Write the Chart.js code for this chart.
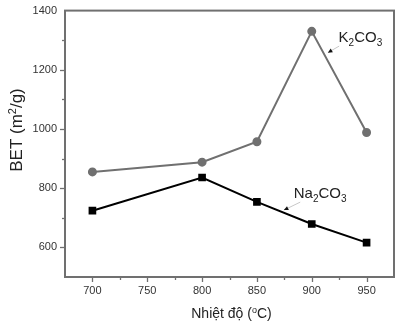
<!DOCTYPE html>
<html>
<head>
<meta charset="utf-8">
<script src="https://cdn.jsdelivr.net/npm/chart.js@4/dist/chart.umd.min.js"></script>
<style>
  html, body { margin: 0; padding: 0; background: #fff; }
  #wrap { width: 400px; height: 324px; }
</style>
</head>
<body>
<div id="wrap"><canvas id="c" width="400" height="324"></canvas></div>
<script>
// Calcination temperature (°C) and BET surface area (m²/g)
const temperatures = [700, 800, 850, 900, 950];
const betK2CO3 = [855, 888, 957, 1330, 988];
const betNa2CO3 = [724, 836, 754, 679, 616];
const xTickLabels = [700, 750, 800, 850, 900, 950];
const yTickLabels = [600, 800, 1000, 1200, 1400];

const FONT = "'Liberation Sans', Arial, sans-serif";
const FRAME = '#707070';

// Draw text made of normal / sub / superscript runs
function richWidth(ctx, runs, size) {
  let w = 0;
  for (const r of runs) {
    ctx.font = (r.k === 'n' ? size : Math.round(size * 0.66)) + 'px ' + FONT;
    w += ctx.measureText(r.t).width;
  }
  return w;
}
function drawRich(ctx, runs, x, y, size) {
  let cx = x;
  for (const r of runs) {
    const s = r.k === 'n' ? size : Math.round(size * 0.66);
    ctx.font = s + 'px ' + FONT;
    const dy = r.k === 'sub' ? size * 0.28 : r.k === 'sup' ? -size * 0.38 : 0;
    ctx.fillText(r.t, cx, y + dy);
    cx += ctx.measureText(r.t).width;
  }
}

const decorations = {
  id: 'decorations',
  afterDraw(chart) {
    const {ctx, chartArea: a, scales: {x, y}} = chart;
    ctx.save();
    // frame
    ctx.strokeStyle = FRAME;
    ctx.lineWidth = 2;
    ctx.strokeRect(a.left, a.top, a.right - a.left, a.bottom - a.top);
    // outward tick marks, longer on labelled values
    ctx.lineWidth = 1.3;
    x.ticks.forEach(t => {
      if (t.value <= x.min || t.value >= x.max) return;
      const px = Math.round(x.getPixelForValue(t.value)) + 0.5;
      const len = xTickLabels.includes(t.value) ? 5 : 3;
      ctx.beginPath(); ctx.moveTo(px, a.bottom); ctx.lineTo(px, a.bottom + len); ctx.stroke();
    });
    y.ticks.forEach(t => {
      if (t.value <= y.min || t.value >= y.max) return;
      const py = Math.round(y.getPixelForValue(t.value)) + 0.5;
      const len = yTickLabels.includes(t.value) ? 5 : 3;
      ctx.beginPath(); ctx.moveTo(a.left, py); ctx.lineTo(a.left - len, py); ctx.stroke();
    });

    ctx.fillStyle = '#222';
    ctx.textBaseline = 'alphabetic';
    ctx.textAlign = 'left';
    // axis titles
    const xt = [{t: 'Nhiệt độ (', k: 'n'}, {t: 'o', k: 'sup'}, {t: 'C)', k: 'n'}];
    const xw = richWidth(ctx, xt, 14);
    drawRich(ctx, xt, (a.left + a.right) / 2 - xw / 2 + 2, 318, 14);

    const yt = [{t: 'BET (m', k: 'n'}, {t: '2', k: 'sup'}, {t: '/g)', k: 'n'}];
    const yw = richWidth(ctx, yt, 17);
    ctx.save();
    ctx.translate(22, 130);
    ctx.rotate(-Math.PI / 2);
    drawRich(ctx, yt, -yw / 2, 0, 17);
    ctx.restore();

    // series labels with leader lines
    const labels = [
      {runs: [{t: 'K', k: 'n'}, {t: '2', k: 'sub'}, {t: 'CO', k: 'n'}, {t: '3', k: 'sub'}],
       tx: 924.5, ty: 1295, from: [925, 1280], to: [914.7, 1258]},
      {runs: [{t: 'Na', k: 'n'}, {t: '2', k: 'sub'}, {t: 'CO', k: 'n'}, {t: '3', k: 'sub'}],
       tx: 883.6, ty: 766, from: [889.5, 753], to: [874.6, 726]}
    ];
    labels.forEach(l => {
      const fx = x.getPixelForValue(l.from[0]), fy = y.getPixelForValue(l.from[1]);
      const ex = x.getPixelForValue(l.to[0]), ey = y.getPixelForValue(l.to[1]);
      ctx.strokeStyle = '#c8c8c8';
      ctx.lineWidth = 1;
      ctx.beginPath(); ctx.moveTo(fx, fy); ctx.lineTo(ex, ey); ctx.stroke();
      // small arrowhead at the curve end
      const ang = Math.atan2(ey - fy, ex - fx);
      ctx.fillStyle = '#111';
      ctx.beginPath();
      ctx.moveTo(ex, ey);
      ctx.lineTo(ex - 5 * Math.cos(ang - 0.45), ey - 5 * Math.sin(ang - 0.45));
      ctx.lineTo(ex - 5 * Math.cos(ang + 0.45), ey - 5 * Math.sin(ang + 0.45));
      ctx.closePath(); ctx.fill();
      ctx.fillStyle = '#222';
      drawRich(ctx, l.runs, x.getPixelForValue(l.tx), y.getPixelForValue(l.ty), 15);
    });
    ctx.restore();
  }
};

new Chart(document.getElementById('c'), {
  type: 'line',
  data: {
    datasets: [
      {
        label: 'K2CO3',
        data: temperatures.map((t, i) => ({x: t, y: betK2CO3[i]})),
        borderColor: '#707070',
        backgroundColor: '#707070',
        borderWidth: 2,
        pointStyle: 'circle',
        pointRadius: 3.5,
        tension: 0
      },
      {
        label: 'Na2CO3',
        data: temperatures.map((t, i) => ({x: t, y: betNa2CO3[i]})),
        borderColor: '#000',
        backgroundColor: '#000',
        borderWidth: 2,
        pointStyle: 'rect',
        pointRadius: 4,
        tension: 0
      }
    ]
  },
  options: {
    responsive: false,
    animation: false,
    layout: {padding: {top: 10, right: 2, left: 0, bottom: 0}},
    plugins: {legend: {display: false}, tooltip: {enabled: false}},
    scales: {
      x: {
        type: 'linear',
        min: 675, max: 975,
        afterFit: s => { s.height = 47; },
        afterBuildTicks: s => {
          const t = [];
          for (let v = 675; v <= 975; v += 25) t.push({value: v});
          s.ticks = t;
        },
        ticks: {
          autoSkip: false, maxRotation: 0, padding: 3,
          color: '#333', font: {family: FONT, size: 11},
          callback: v => xTickLabels.includes(v) ? String(v) : ''
        },
        grid: {display: true, drawOnChartArea: false, drawTicks: true, tickLength: 4, tickColor: 'transparent'},
        border: {display: false}
      },
      y: {
        type: 'linear',
        min: 500, max: 1400,
        afterFit: s => { s.width = 65; },
        afterBuildTicks: s => {
          const t = [];
          for (let v = 500; v <= 1400; v += 100) t.push({value: v});
          s.ticks = t;
        },
        ticks: {
          autoSkip: false, padding: 4,
          color: '#333', font: {family: FONT, size: 11},
          callback: v => yTickLabels.includes(v) ? String(v) : ''
        },
        grid: {display: true, drawOnChartArea: false, drawTicks: true, tickLength: 4, tickColor: 'transparent'},
        border: {display: false}
      }
    }
  },
  plugins: [decorations]
});
</script>
</body>
</html>
